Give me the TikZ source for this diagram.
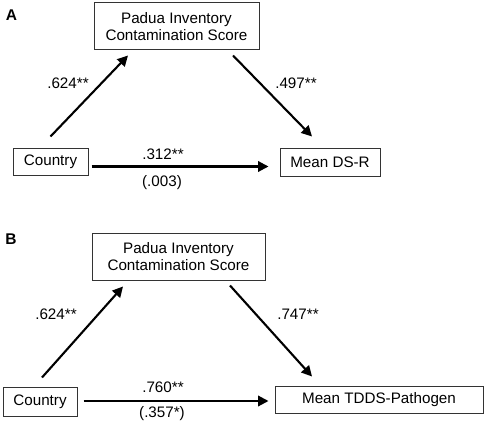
\documentclass[tikz,border=0pt]{standalone}
\usepackage{fontspec}
\setmainfont{Liberation Sans}
\usetikzlibrary{arrows.meta}
\begin{document}
\begin{tikzpicture}[x=1pt,y=-1pt,
  box/.style={draw=black!80,line width=1pt,inner sep=0pt,align=center,
    font=\fontsize{15.2}{17}\selectfont},
  lbl/.style={inner sep=0pt,font=\fontsize{15.2}{17}\selectfont},
  panel/.style={inner sep=0pt,font=\fontsize{15.5}{17}\selectfont\bfseries},
  arr/.style={line width=2.1pt,-{Triangle[length=10.5pt,width=10.5pt]}}]
\useasboundingbox (0,0) rectangle (487,428);
% Panel A
\node[panel] (pa) at (11.5,15.5) {A};
\node[box,minimum width=165pt,minimum height=47pt] (paduaa) at (176.5,26.5) {Padua Inventory\\Contamination Score};
\node[box,minimum width=75pt,minimum height=27pt] (countrya) at (50.5,161.5) {Country};
\node[box,minimum width=100pt,minimum height=28pt] (meana) at (330,162) {Mean DS-R};
\draw[arr] ([yshift=11pt]countrya.north) -- ([xshift=-48.5pt,yshift=-5pt]paduaa.south);
\draw[arr] ([xshift=56.5pt,yshift=-5pt]paduaa.south) -- ([xshift=-18pt,yshift=11pt]meana.north);
\draw[arr] ([xshift=3pt,yshift=-5pt]countrya.east) -- ([xshift=-11pt,yshift=-4.5pt]meana.west);
\node[lbl] (la1) at (68,83) {.624**};
\node[lbl] (la2) at (296,83) {.497**};
\node[lbl] (la3) at (163,154) {.312**};
\node[lbl] (la4) at (162,183) {(.003)};
% Panel B
\node[panel] (pb) at (11,239) {B};
\node[box,minimum width=173pt,minimum height=47pt] (paduab) at (178.5,256.5) {Padua Inventory\\Contamination Score};
\node[box,minimum width=74pt,minimum height=29pt] (countryb) at (40,401.5) {Country};
\node[box,minimum width=208pt,minimum height=27pt] (meanb) at (379,399.5) {Mean TDDS-Pathogen};
\draw[arr] ([xshift=2pt,yshift=9pt]countryb.north) -- ([xshift=-55.5pt,yshift=-6pt]paduab.south);
\draw[arr] ([xshift=51.5pt,yshift=-5pt]paduab.south) -- ([xshift=-67pt,yshift=9pt]meanb.north);
\draw[arr] ([xshift=6pt,yshift=0.5pt]countryb.east) -- ([xshift=-6pt,yshift=-1.5pt]meanb.west);
\node[lbl] (lb1) at (56,314) {.624**};
\node[lbl] (lb2) at (298,314) {.747**};
\node[lbl] (lb3) at (163,387) {.760**};
\node[lbl] (lb4) at (162,414) {(.357*)};
\end{tikzpicture}
\end{document}
